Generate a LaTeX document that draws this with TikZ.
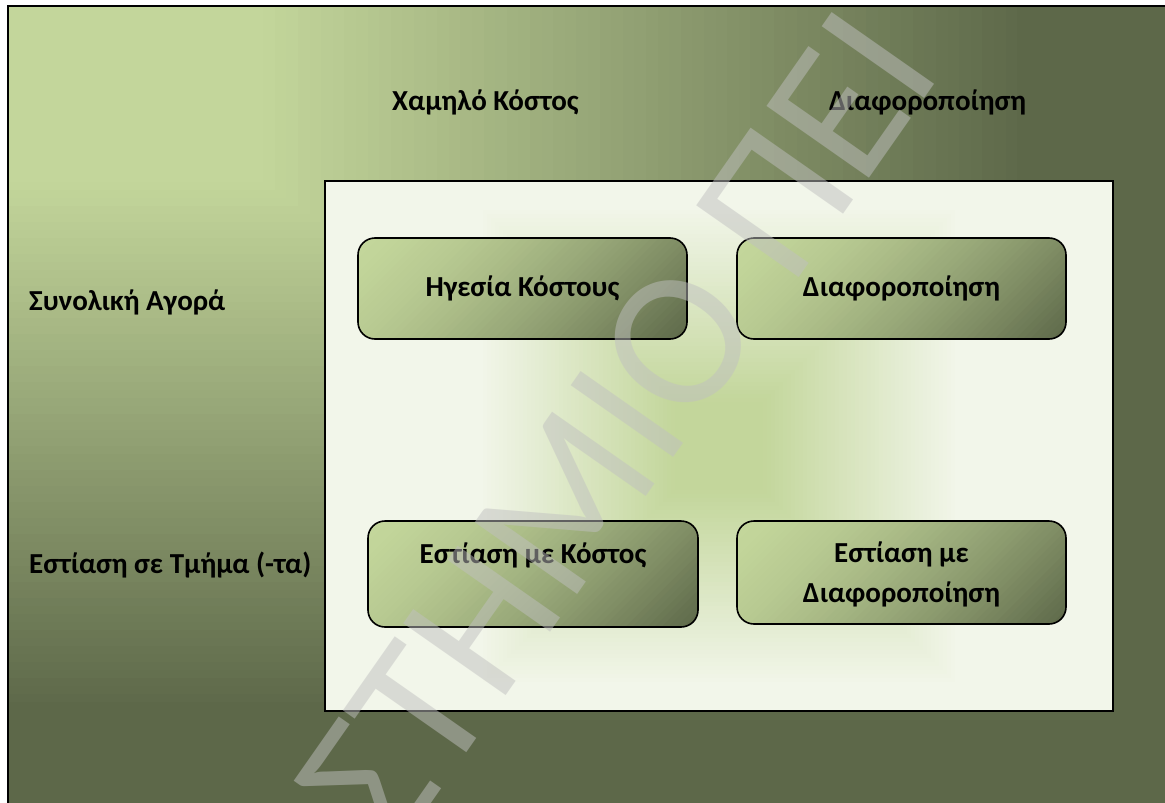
\documentclass[tikz,border=0pt]{standalone}
\usepackage{fontspec}
\setmainfont{Carlito}
\usetikzlibrary{calc}
\definecolor{olLight}{HTML}{C3D69B}
\definecolor{olDark}{HTML}{5D6849}
\definecolor{paper}{HTML}{F2F6EA}
\definecolor{silver}{HTML}{C0C0C0}
\tikzset{
  lbl/.style={font=\bfseries\fontsize{29}{40}\selectfont, inner sep=0pt, anchor=base west},
  boxtxt/.style={font=\bfseries\fontsize{29}{40}\selectfont, inner sep=0pt, align=center, anchor=base},
  framebox/.style={draw=black, line width=1.6pt},
  stratbox/.style={draw=black, line width=1.6pt, rounded corners=17pt},
}
% rounded box filled with a 45-degree olive gradient (light top-left, dark bottom-right)
\newcommand\gradbox[5]{%
  \begin{scope}
    \clip[rounded corners=17pt] (#2,#3) rectangle (#4,#5);
    \pgfmathsetmacro\gbP{(#4-#2)+(#5-#3)}
    \foreach \gbK in {0,...,59}{
      \pgfmathsetmacro\gbT{\gbK/59}
      \pgfmathtruncatemacro\gbMix{100*(\gbT^1.5)}
      \pgfmathsetmacro\gbC{\gbK/60*\gbP}
      \fill[olDark!\gbMix!olLight]
        ({#2+\gbC+600},{#3-600}) -- ({#2+\gbP+600},{#3-600}) --
        ({#2+\gbP-600},{#3+600}) -- ({#2+\gbC-600},{#3+600}) -- cycle;
    }
  \end{scope}
  \draw[stratbox] (#2,#3) rectangle (#4,#5);
  \coordinate (#1) at ({(#2+#4)/2},{(#3+#5)/2});
}
\begin{document}
\begin{tikzpicture}[x=1pt,y=-1pt]
\useasboundingbox (0,0) rectangle (1165,803);
\clip (0,0) rectangle (1165,803);
\fill[white] (0,0) rectangle (1165,803);

% outer panel: gradient spreading from the top-left corner
\begin{scope}
  \clip (8,6) rectangle (1180,815);
  \foreach \i in {100,99,...,1}{
    \pgfmathsetmacro\gt{\i/100}
    \pgfmathtruncatemacro\gm{max(0,min(100,(\gt-0.22)/0.66*100))}
    \fill[olDark!\gm!olLight] (8,6) rectangle ({8+\gt*1160},{6+\gt*800});
  }
\end{scope}
\draw[framebox] (8,6) rectangle (1180,815);

% inner matrix panel: pale with a green glow in the middle
\begin{scope}
  \clip (325,181) rectangle (1113,711);
  \foreach \i in {100,99,...,1}{
    \pgfmathsetmacro\gd{\i*4}
    \pgfmathtruncatemacro\gm{max(0,min(100,(\gd-45)/195*100))}
    \fill[paper!\gm!olLight] ({719-\gd},{446-\gd}) rectangle ({719+\gd},{446+\gd});
  }
\end{scope}
\draw[framebox, line width=2pt] (325,181) rectangle (1113,711);

% strategy boxes
\gradbox{b1}{358}{238}{687}{339}
\gradbox{b2}{737}{238}{1066}{339}
\gradbox{b3}{368}{521}{698}{627}
\gradbox{b4}{737}{521}{1066}{624}

\node[boxtxt] (t1) at (522.5,296) {Ηγεσία Κόστους};
\node[boxtxt] (t2) at (901.5,296) {Διαφοροποίηση};
\node[boxtxt] (t3) at (533,563) {Εστίαση με Κόστος};
\node[boxtxt] (t4) at (901.5,602) {Εστίαση με\\Διαφοροποίηση};

% axis labels
\node[lbl] (low) at (392,110) {Χαμηλό Κόστος};
\node[lbl] (diff) at (829,110) {Διαφοροποίηση};
\node[lbl] (whole) at (29,310) {Συνολική Αγορά};
\node[lbl] (seg) at (29,573) {Εστίαση σε Τμήμα (-τα)};

% diagonal watermark
\node[font=\fontsize{195}{195}\selectfont, text=silver, text opacity=0.5,
      inner sep=0pt, anchor=base west, rotate=55] (wm) at (393,858) {ΣΤΗΜΙΟ ΠΕΙ};
\end{tikzpicture}
\end{document}
